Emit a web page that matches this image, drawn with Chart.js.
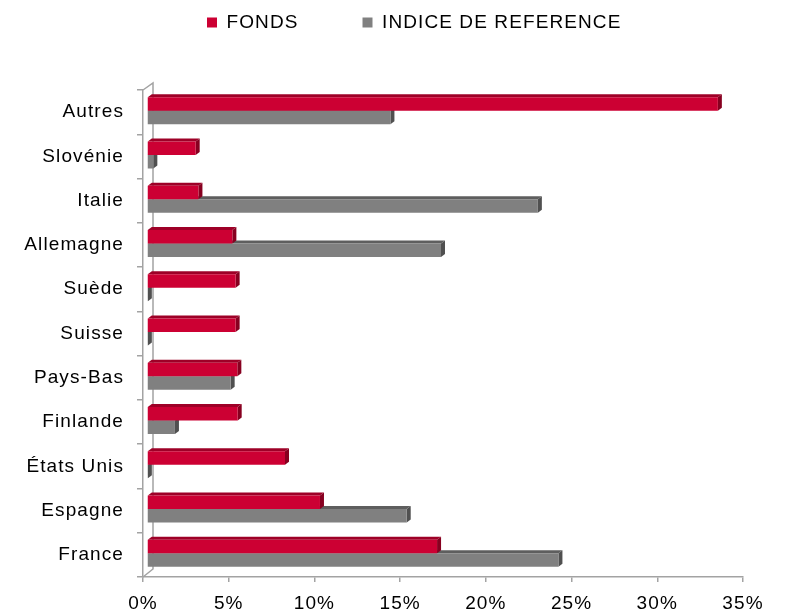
<!DOCTYPE html>
<html><head><meta charset="utf-8">
<script src="https://cdn.jsdelivr.net/npm/chart.js@4.4.1/dist/chart.umd.min.js"></script>
<style>html,body{margin:0;padding:0;background:#fff}</style>
</head><body>
<canvas id="c" width="792" height="612" style="display:block;width:792px;height:612px"></canvas>
<script>
const categories = ['Autres','Slovénie','Italie','Allemagne','Suède','Suisse','Pays-Bas','Finlande','États Unis','Espagne','France'];
const fondsValues = [33.3, 2.84, 3.0, 4.98, 5.17, 5.17, 5.27, 5.29, 8.05, 10.09, 16.92];
const indiceValues = [14.2, 0.37, 22.8, 17.15, 0.05, 0.05, 4.88, 1.63, 0.05, 15.15, 24.0];
const seriesNames = ['FONDS', 'INDICE DE REFERENCE'];
const xTickMin = 0, xTickMax = 35, xTickStep = 5;

const frontColors = ['#CC0033', '#808080'];
const topColors = ['#9E0027', '#5E5E5E'];
const sideColors = ['#870020', '#505050'];
const axisColor = '#A3A3A3';
const FONT = '"Liberation Sans", Arial, sans-serif';
const LS = '1.1px';

const spacingPlugin = {
  id: 'spacing',
  beforeUpdate(c) { c.ctx.letterSpacing = LS; },
  beforeLayout(c) { c.ctx.letterSpacing = LS; },
  beforeDraw(c) { c.ctx.letterSpacing = LS; }
};

const legendHeightPlugin = {
  id: 'legendHeight',
  beforeInit(c) {
    const lg = c.legend;
    if (lg && !lg._patched) {
      const f = lg.fit.bind(lg);
      lg.fit = function () { f(); this.height = 141; };
      lg._patched = true;
    }
  }
};

const BAR_DX = 4, BAR_DY = -1.5, DEPTH_X = 4, DEPTH_Y = 3;

const threeD = {
  id: 'threeD',
  beforeDatasetsDraw(c) {
    const ctx = c.ctx, ca = c.chartArea;
    ctx.save();
    ctx.strokeStyle = axisColor; ctx.lineWidth = 1.5;
    ctx.beginPath();
    ctx.moveTo(ca.left, ca.top);
    ctx.lineTo(ca.left + 10, ca.top - 7);
    ctx.lineTo(ca.left + 10, ca.bottom - 8);
    ctx.lineTo(ca.left, ca.bottom);
    ctx.stroke();
    ctx.restore();
    ctx.save();
    ctx.translate(BAR_DX, BAR_DY);
    for (let d = c.data.datasets.length - 1; d >= 0; d--) {
      const meta = c.getDatasetMeta(d);
      meta.data.forEach(el => {
        const p = el.getProps(['x', 'y', 'base', 'height'], true);
        const top = p.y - p.height / 2, bot = p.y + p.height / 2;
        const x0 = p.base, x1 = p.x;
        ctx.fillStyle = topColors[d];
        ctx.beginPath();
        ctx.moveTo(x0, top); ctx.lineTo(x1, top);
        ctx.lineTo(x1 + DEPTH_X, top - DEPTH_Y); ctx.lineTo(x0 + DEPTH_X, top - DEPTH_Y);
        ctx.closePath(); ctx.fill();
        ctx.fillStyle = sideColors[d];
        ctx.beginPath();
        ctx.moveTo(x1, top); ctx.lineTo(x1 + DEPTH_X, top - DEPTH_Y);
        ctx.lineTo(x1 + DEPTH_X, bot - DEPTH_Y); ctx.lineTo(x1, bot);
        ctx.closePath(); ctx.fill();
      });
    }
  },
  afterDatasetsDraw(c) { c.ctx.restore(); }
};

new Chart(document.getElementById('c'), {
  type: 'bar',
  data: {
    labels: categories,
    datasets: [
      { label: seriesNames[0], data: fondsValues, backgroundColor: frontColors[0], borderWidth: 0 },
      { label: seriesNames[1], data: indiceValues, backgroundColor: frontColors[1], borderWidth: 0 }
    ]
  },
  options: {
    responsive: false,
    animation: false,
    indexAxis: 'y',
    devicePixelRatio: 1,
    categoryPercentage: 0.61,
    barPercentage: 1.0,
    layout: { padding: { left: 0, right: 49, top: -51, bottom: 0 } },
    plugins: {
      tooltip: { enabled: false },
      legend: {
        position: 'top',
        align: 'start',
        fullSize: false,
        labels: {
          boxWidth: 10, boxHeight: 10, padding: 64, color: '#000',
          font: { family: FONT, size: 19 }
        }
      }
    },
    scales: {
      x: {
        type: 'linear', min: xTickMin, max: xTickMax,
        ticks: { stepSize: xTickStep, color: '#000', padding: 10, font: { family: FONT, size: 19 },
                 callback: v => v + '%' },
        grid: { display: true, drawOnChartArea: false, drawTicks: true, tickLength: 5, color: axisColor, lineWidth: 1.5 },
        border: { display: true, color: axisColor, width: 1.5 },
        afterFit(s) { s.height = 35; }
      },
      y: {
        type: 'category',
        ticks: { color: '#000', padding: 13, font: { family: FONT, size: 19 } },
        grid: { display: true, offset: true, drawOnChartArea: false, drawTicks: true, tickLength: 6, color: axisColor, lineWidth: 1.5 },
        border: { display: true, color: axisColor, width: 1.5 },
        afterFit(s) { s.width = 143; }
      }
    }
  },
  plugins: [spacingPlugin, legendHeightPlugin, threeD]
});
</script>
</body></html>
